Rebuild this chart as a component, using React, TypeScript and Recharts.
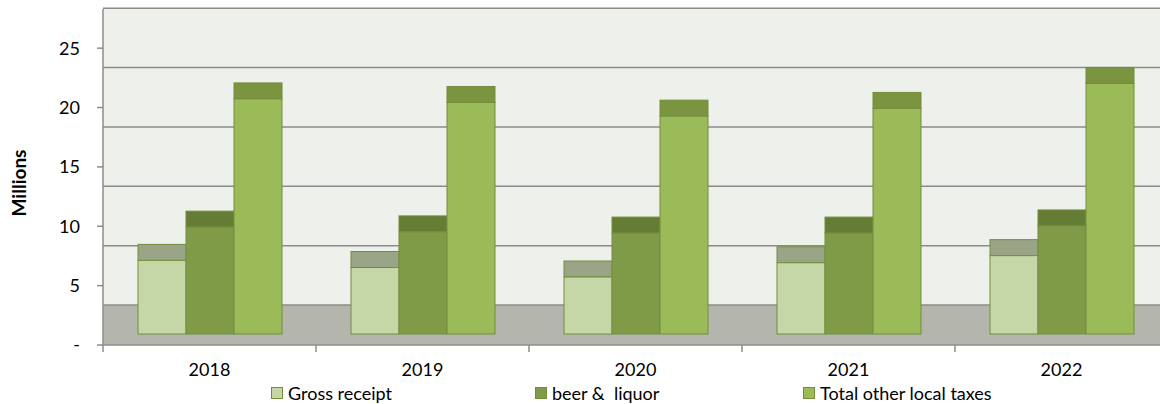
import React from 'react';
import { BarChart, Bar, XAxis, YAxis, CartesianGrid, Legend } from 'recharts';

const years = ['2018', '2019', '2020', '2021', '2022'];
const grossReceipt = [6.2, 5.6, 4.8, 6.0, 6.6];
const beerLiquor = [9.0, 8.6, 8.5, 8.5, 9.1];
const totalOtherLocal = [19.8, 19.5, 18.35, 19.0, 21.1];
const yTicks = [0, 5, 10, 15, 20, 25];
const seriesNames = ['Gross receipt', 'beer &  liquor', 'Total other local taxes'];

const data = years.map((year, i) => ({
  year,
  gross: grossReceipt[i],
  beer: beerLiquor[i],
  total: totalOtherLocal[i],
}));

const FONT = 'Lato, "Noto Sans", sans-serif';
const EDGE = '#738d3c';
const AXIS = '#8c8c8c';
const WALL_DEPTH = 40; // back wall sits this far above the front plane
const FRONT_LIFT = 11; // columns stand a bit behind the front edge of the floor
const CAP = 16; // height of the visible top face

const colors = {
  gross: { front: '#c6d7a7', cap: '#9aa587' },
  beer: { front: '#809b48', cap: '#657c35' },
  total: { front: '#9bbb59', cap: '#7b9440' },
};

function columnShape(front: string, cap: string) {
  return (p: any) => {
    const { x, y, width, height } = p;
    if (width == null || height == null) return <g />;
    const top = y - FRONT_LIFT;
    return (
      <g>
        <rect x={x} y={top - CAP} width={width} height={CAP} fill={cap} stroke={EDGE} strokeWidth={1} />
        <rect x={x} y={top} width={width} height={height} fill={front} stroke={EDGE} strokeWidth={1} />
      </g>
    );
  };
}

// back wall gridlines + floor, shifted back from the front-plane axis
const gridLine = (p: any) => {
  const { x1, x2, y1, index } = p;
  const bottom = p.y + p.height;
  const yb = y1 - WALL_DEPTH;
  if (Math.abs(y1 - bottom) < 1) {
    return (
      <g key={`g-${index}`}>
        <rect x={x1} y={yb} width={x2 - x1} height={WALL_DEPTH} fill="#b4b6ae" />
        <line x1={x1} x2={x2} y1={yb} y2={yb} stroke={AXIS} strokeWidth={1.5} />
      </g>
    );
  }
  return <line key={`g-${index}`} x1={x1} x2={x2} y1={yb} y2={yb} stroke={AXIS} strokeWidth={1.5} />;
};

const YearTick = (p: any) => {
  const { x, y, payload, width } = p;
  const band = width ? width / years.length : 213;
  return (
    <g>
      <line x1={x - band / 2} x2={x - band / 2} y1={y} y2={y + 7} stroke={AXIS} strokeWidth={1.5} />
      <text x={x} y={y + 31} textAnchor="middle" fontFamily={FONT} fontSize={18} fill="#000">
        {payload.value}
      </text>
    </g>
  );
};

const legendSlots = [264, 268, 250];

const LegendBox = () => {
  const fills = [colors.gross.front, colors.beer.front, colors.total.front];
  return (
    <div style={{ display: 'flex', paddingLeft: 271, fontFamily: FONT, fontSize: 18, color: '#000' }}>
      {seriesNames.map((name, i) => (
        <div key={name} style={{ width: legendSlots[i], height: 20, display: 'flex', alignItems: 'center' }}>
          <span
            style={{
              width: 10,
              height: 10,
              background: fills[i],
              border: `1px solid ${EDGE}`,
              marginRight: 5,
              display: 'inline-block',
            }}
          />
          <span style={{ whiteSpace: 'pre', lineHeight: '20px' }}>{name}</span>
        </div>
      ))}
    </div>
  );
};

const MillionsLabel = (p: any) => {
  const vb = p.viewBox || { x: 0, y: 9, width: 103, height: 336 };
  const cy = vb.y + vb.height / 2 + 6;
  return (
    <text
      x={18}
      y={cy}
      transform={`rotate(-90, 18, ${cy})`}
      textAnchor="middle"
      dominantBaseline="central"
      fontFamily={FONT}
      fontSize={19}
      fontWeight="bold"
      fill="#000"
    >
      Millions
    </text>
  );
};

export default function App() {
  return (
    <div style={{ position: 'absolute', left: 0, top: 0, width: 1160, height: 404, overflow: 'hidden', background: '#fff' }}>
      <BarChart
        width={1170}
        height={404}
        data={data}
        margin={{ top: 9, right: 2, bottom: 0, left: 0 }}
        barCategoryGap={35}
        barGap={0}
      >
        <CartesianGrid vertical={false} horizontal={gridLine} fill="#eef1eb" />
        <XAxis
          dataKey="year"
          height={59}
          axisLine={{ stroke: AXIS, strokeWidth: 1.5 }}
          tickLine={false}
          tickSize={0}
          tickMargin={0}
          tick={<YearTick />}
          interval={0}
        />
        <YAxis
          width={103}
          domain={[0, 28.3]}
          ticks={yTicks}
          allowDataOverflow
          tickFormatter={(v: number) => (v === 0 ? '-' : String(v))}
          axisLine={{ stroke: AXIS, strokeWidth: 1.5 }}
          tickLine={{ stroke: AXIS, strokeWidth: 1.5 }}
          tickSize={6}
          tickMargin={17}
          tick={{ fontFamily: FONT, fontSize: 18, fill: '#000' }}
          label={<MillionsLabel />}
        />
        <Legend
          layout="horizontal"
          verticalAlign="middle"
          align="center"
          wrapperStyle={{ top: 383, left: 0, width: 1160, height: 20 }}
          content={<LegendBox />}
        />
        <Bar dataKey="gross" name={seriesNames[0]} fill={colors.gross.front} shape={columnShape(colors.gross.front, colors.gross.cap)} isAnimationActive={false} />
        <Bar dataKey="beer" name={seriesNames[1]} fill={colors.beer.front} shape={columnShape(colors.beer.front, colors.beer.cap)} isAnimationActive={false} />
        <Bar dataKey="total" name={seriesNames[2]} fill={colors.total.front} shape={columnShape(colors.total.front, colors.total.cap)} isAnimationActive={false} />
      </BarChart>
    </div>
  );
}
